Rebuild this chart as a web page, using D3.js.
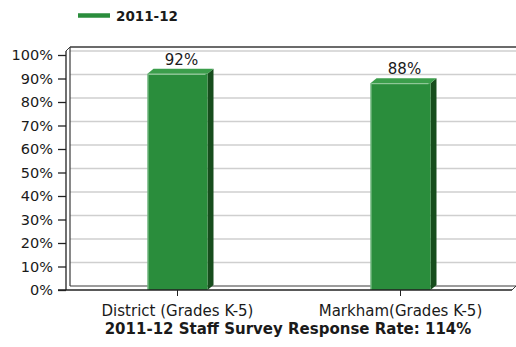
<!DOCTYPE html>
<html>
<head>
<meta charset="utf-8">
<script src="https://cdn.jsdelivr.net/npm/d3@7/dist/d3.min.js"></script>
<style>
  html, body { margin: 0; padding: 0; background: #fff; }
  svg { display: block; }
  text { font-family: "DejaVu Sans", Verdana, sans-serif; fill: #1a1a1a; }
</style>
</head>
<body>
<svg id="chart" width="516" height="347"></svg>
<script>
// Survey response rates by school group
const categories = ["District (Grades K-5)", "Markham(Grades K-5)"];
const seriesName = "2011-12";
const values = [92, 88];
const yTicks = [0, 10, 20, 30, 40, 50, 60, 70, 80, 90, 100];
const chartTitle = "2011-12 Staff Survey Response Rate: 114%";

const svg = d3.select("#chart");
const W = 516, H = 347;

// front plane of the plot
const left = 66, right = 512, bottom = 290, top100 = 55;
// depth of the 3D back wall
const wallDx = 4, wallDy = -4;
// depth of the bars
const barDx = 6, barDy = -5;

const x = d3.scaleBand().domain(categories).range([left, right]).paddingInner(0).paddingOuter(0);
const y = d3.scaleLinear().domain([0, 100]).range([bottom, top100]);
const barW = 60;

const green = "#2a8d3c", greenDark = "#174d1d", greenTop = "#3b9e4b";

// legend
svg.append("line").attr("x1", 78).attr("x2", 110).attr("y1", 15.5).attr("y2", 15.5)
  .attr("stroke", green).attr("stroke-width", 4.5);
svg.append("text").attr("x", 116).attr("y", 21).attr("font-size", 13.5).attr("font-weight", "bold")
  .text(seriesName);

// back wall gridlines
const g = svg.append("g");
g.selectAll("line.grid").data(yTicks.filter(t => t > 0)).join("line")
  .attr("class", "grid")
  .attr("x1", left + wallDx).attr("x2", W)
  .attr("y1", d => y(d) + wallDy).attr("y2", d => y(d) + wallDy)
  .attr("stroke", "#cfcfcf").attr("stroke-width", 1.6);

// back wall frame: top edge, left edge, bottom edge
g.append("line").attr("x1", left + wallDx).attr("x2", W).attr("y1", 47).attr("y2", 47)
  .attr("stroke", "#3a3a3a").attr("stroke-width", 1.6);
g.append("line").attr("x1", left + wallDx).attr("x2", left + wallDx).attr("y1", 47).attr("y2", bottom + wallDy)
  .attr("stroke", "#3a3a3a").attr("stroke-width", 1.2);
g.append("line").attr("x1", left + wallDx).attr("x2", right + wallDx).attr("y1", bottom + wallDy).attr("y2", bottom + wallDy)
  .attr("stroke", "#3a3a3a").attr("stroke-width", 1.2);
// floor edges
g.append("line").attr("x1", right).attr("x2", right + wallDx).attr("y1", bottom).attr("y2", bottom + wallDy)
  .attr("stroke", "#3a3a3a").attr("stroke-width", 1);
g.append("line").attr("x1", left).attr("x2", left + wallDx).attr("y1", 51).attr("y2", 47)
  .attr("stroke", "#3a3a3a").attr("stroke-width", 1);

// bars
const bars = svg.append("g").selectAll("g.bar").data(values).join("g").attr("class", "bar");
const bx = (d, i) => x(categories[i]) + (x.bandwidth() - barW) / 2;
bars.append("path") // side face
  .attr("d", (d, i) => {
    const x1 = bx(d, i) + barW, yt = y(d);
    return `M${x1},${yt} L${x1 + barDx},${yt + barDy} L${x1 + barDx},${bottom + barDy} L${x1},${bottom} Z`;
  })
  .attr("fill", greenDark);
bars.append("path") // top face
  .attr("d", (d, i) => {
    const x0 = bx(d, i), yt = y(d);
    return `M${x0},${yt} L${x0 + barDx},${yt + barDy} L${x0 + barW + barDx},${yt + barDy} L${x0 + barW},${yt} Z`;
  })
  .attr("fill", greenTop);
bars.append("rect") // front face
  .attr("x", bx).attr("y", d => y(d))
  .attr("width", barW).attr("height", d => bottom - y(d))
  .attr("fill", green);
bars.append("line") // front-top highlight
  .attr("x1", (d, i) => bx(d, i) + 1).attr("x2", (d, i) => bx(d, i) + barW - 2)
  .attr("y1", d => y(d) + 0.5).attr("y2", d => y(d) + 0.5)
  .attr("stroke", "#9fd0a6").attr("stroke-width", 1);
bars.append("line") // front-left highlight
  .attr("x1", (d, i) => bx(d, i) + 0.5).attr("x2", (d, i) => bx(d, i) + 0.5)
  .attr("y1", d => y(d)).attr("y2", bottom)
  .attr("stroke", "#8fc89a").attr("stroke-width", 1);

// value labels
svg.append("g").selectAll("text").data(values).join("text")
  .attr("x", (d, i) => x(categories[i]) + x.bandwidth() / 2 + 4)
  .attr("y", d => y(d) - 9)
  .attr("text-anchor", "middle").attr("font-size", 15)
  .text(d => d + "%");

// y axis
const yAxis = svg.append("g").attr("transform", `translate(${left},0)`)
  .call(d3.axisLeft(y).tickValues(yTicks).tickFormat(d => d + "%").tickSize(8).tickPadding(5));
yAxis.select(".domain").attr("stroke", "#222").attr("stroke-width", 1.3).attr("d", `M0,${bottom}V51`);
yAxis.selectAll(".tick line").attr("stroke", "#222").attr("stroke-width", 1.3);
yAxis.selectAll(".tick text").attr("font-size", 14.5).attr("font-family", "DejaVu Sans, Verdana, sans-serif").attr("fill", "#1a1a1a");

// x axis
const xAxis = svg.append("g").attr("transform", `translate(0,${bottom})`)
  .call(d3.axisBottom(x).tickSize(6).tickPadding(9).tickSizeOuter(0));
xAxis.select(".domain").attr("stroke", "#222").attr("stroke-width", 1.5).attr("d", `M${left - 8},0H${right}`);
xAxis.selectAll(".tick line").attr("stroke", "#222");
xAxis.selectAll(".tick text").attr("font-size", 15).attr("font-family", "DejaVu Sans, Verdana, sans-serif").attr("fill", "#1a1a1a");

// title
svg.append("text").attr("x", 288).attr("y", 334)
  .attr("text-anchor", "middle").attr("font-size", 15).attr("font-weight", "bold")
  .text(chartTitle);
</script>
</body>
</html>
